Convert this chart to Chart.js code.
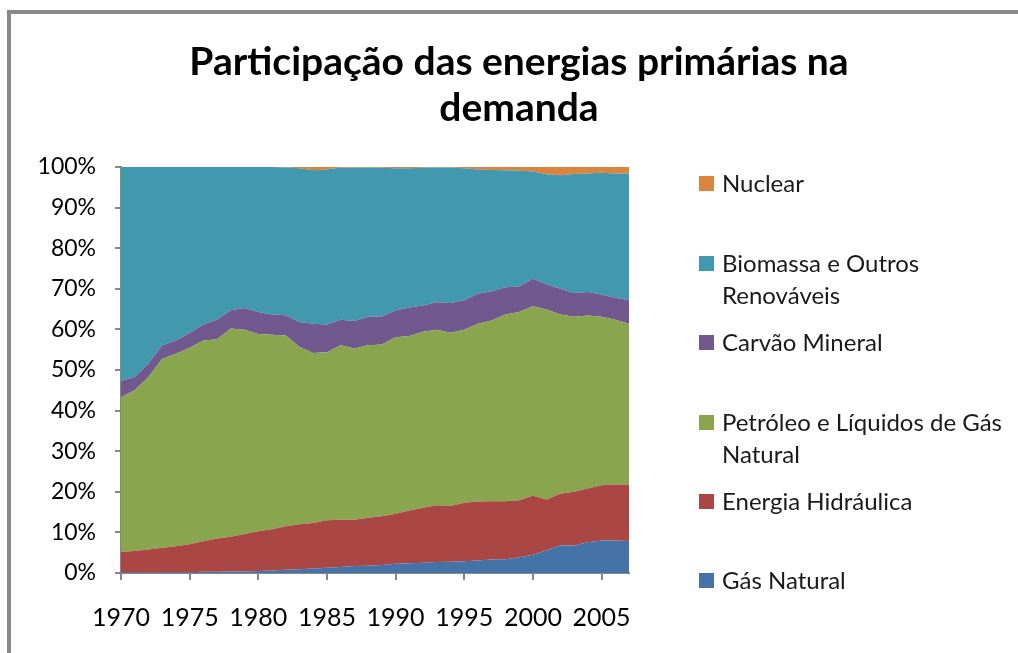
<!DOCTYPE html>
<html>
<head>
<meta charset="utf-8">
<script src="https://cdn.jsdelivr.net/npm/chart.js@4/dist/chart.umd.min.js"></script>
<style>
  html, body { margin: 0; padding: 0; background: #fff; }
  #wrap { position: relative; width: 1018px; height: 653px; overflow: hidden; }
  #frame { position: absolute; left: 7px; top: 10px; width: 1100px; height: 700px;
           border-top: 4px solid #898989; border-left: 4px solid #898989; }
  #chart { position: absolute; left: 0; top: 0; }
  #legend { position: absolute; left: 0; top: 0; font-family: Lato, sans-serif; font-size: 24px; color: #1a1a1a; }
  .item { position: absolute; left: 699px; line-height: 32px; }
  .box { position: absolute; left: 0; top: 9px; width: 15px; height: 15px; }
  .txt { position: absolute; left: 23px; top: 0; width: 292px; }
</style>
</head>
<body>
<div id="wrap">
  <div id="frame"></div>
  <canvas id="chart" width="1018" height="653"></canvas>
  <div id="legend"></div>
</div>
<script>
const years = [1970, 1971, 1972, 1973, 1974, 1975, 1976, 1977, 1978, 1979,
  1980, 1981, 1982, 1983, 1984, 1985, 1986, 1987, 1988, 1989,
  1990, 1991, 1992, 1993, 1994, 1995, 1996, 1997, 1998, 1999,
  2000, 2001, 2002, 2003, 2004, 2005, 2006, 2007];

// shares (%)
const gasNatural = [0.1, 0.1, 0.1, 0.2, 0.2, 0.2, 0.3, 0.3, 0.4, 0.4,
  0.5, 0.6, 0.8, 0.9, 1.1, 1.3, 1.5, 1.7, 1.8, 2.0,
  2.3, 2.4, 2.5, 2.7, 2.8, 2.9, 3.1, 3.3, 3.4, 3.9,
  4.5, 5.6, 6.8, 6.8, 7.6, 8.0, 8.0, 7.9];
const hidraulica = [5.1, 5.3, 5.7, 6.0, 6.4, 6.9, 7.5, 8.2, 8.5, 9.2,
  9.8, 10.2, 10.7, 11.1, 11.2, 11.7, 11.6, 11.4, 11.8, 12.0,
  12.3, 13.0, 13.6, 14.0, 13.7, 14.4, 14.5, 14.4, 14.3, 14.0,
  14.5, 12.5, 12.7, 13.2, 13.2, 13.6, 13.8, 13.9];
const petroleo = [38.1, 39.6, 42.5, 46.6, 47.4, 48.4, 49.5, 49.1, 51.3, 50.3,
  48.6, 47.9, 47.0, 43.7, 41.9, 41.4, 43.0, 42.2, 42.5, 42.3,
  43.5, 43.0, 43.3, 43.2, 42.7, 42.6, 43.8, 44.5, 46.0, 46.4,
  46.7, 46.8, 44.2, 43.1, 42.6, 41.5, 40.6, 39.6];
const carvao = [4.0, 3.3, 3.3, 3.3, 3.3, 3.6, 3.9, 4.8, 4.5, 5.4,
  5.4, 5.0, 5.0, 6.1, 7.2, 6.8, 6.3, 6.8, 7.0, 6.9,
  6.6, 7.0, 6.5, 6.8, 7.3, 7.3, 7.4, 7.2, 6.7, 6.3,
  6.8, 6.2, 6.3, 5.9, 5.8, 5.5, 5.4, 5.8];
const biomassa = [52.7, 51.7, 48.4, 43.9, 42.7, 40.9, 38.8, 37.6, 35.3, 34.7,
  35.7, 36.3, 36.4, 37.9, 37.8, 38.2, 37.5, 37.7, 36.8, 36.6,
  35.0, 34.3, 33.9, 33.2, 33.4, 32.5, 30.6, 29.9, 28.8, 28.5,
  26.4, 27.1, 28.0, 29.3, 29.2, 30.0, 30.6, 31.2];
const nuclear = [0, 0, 0, 0, 0, 0, 0, 0, 0, 0,
  0, 0, 0.1, 0.3, 0.8, 0.6, 0.1, 0.2, 0.1, 0.2,
  0.3, 0.3, 0.2, 0.1, 0.1, 0.3, 0.6, 0.7, 0.8, 0.9,
  1.1, 1.8, 2.0, 1.7, 1.6, 1.4, 1.6, 1.6];

const seriesNames = ['Gás Natural', 'Energia Hidráulica', 'Petróleo e Líquidos de Gás Natural',
  'Carvão Mineral', 'Biomassa e Outros Renováveis', 'Nuclear'];
const seriesData = [gasNatural, hidraulica, petroleo, carvao, biomassa, nuclear];
const colors = ['#4572A7', '#AA4643', '#89A54E', '#71588F', '#4198AF', '#DB843D'];

// 100% stacked: scale each year to its total
const totals = years.map((y, i) => seriesData.reduce((s, d) => s + d[i], 0));

const datasets = seriesData.map((d, k) => ({
    label: seriesNames[k],
    data: d.map((v, i) => v / totals[i] * 100),
    backgroundColor: colors[k],
    borderWidth: 0,
    pointRadius: 0,
    tension: 0,
    fill: k === 0 ? 'origin' : '-1',
}));

const axisGray = '#868686';
const font = 'Lato, sans-serif';

const chart = new Chart(document.getElementById('chart'), {
    type: 'line',
    data: { labels: years, datasets },
    options: {
        responsive: false,
        animation: false,
        devicePixelRatio: 1,
        layout: { padding: { left: 20, right: 0, top: 39, bottom: 10 } },
        plugins: {
            legend: { display: false },
            tooltip: { enabled: false },
            title: {
                display: true,
                text: ['Participação das energias primárias na', 'demanda'],
                color: '#000',
                font: { family: font, size: 39, weight: 'bold', lineHeight: 1.18 },
                padding: { top: 0, bottom: 36 },
            },
        },
        scales: {
            x: {
                type: 'category',
                offset: false,
                afterFit: (s) => { s.height = 70; },
                grid: { drawOnChartArea: false, drawTicks: true, tickLength: 7, color: axisGray, lineWidth: 2 },
                border: { color: axisGray, width: 2 },
                ticks: {
                    autoSkip: false,
                    maxRotation: 0,
                    padding: 23,
                    color: '#000',
                    font: { family: font, size: 25 },
                    callback: (v, i) => (years[i] % 5 === 0 ? String(years[i]) : null),
                },
            },
            y: {
                stacked: true,
                min: 0,
                max: 100,
                afterFit: (s) => { s.width = 101; },
                grid: { drawOnChartArea: false, drawTicks: true, tickLength: 6, color: axisGray, lineWidth: 2 },
                border: { color: axisGray, width: 2 },
                ticks: {
                    stepSize: 10,
                    padding: 19,
                    color: '#000',
                    font: { family: font, size: 23 },
                    callback: (v) => v + '%',
                },
            },
            // empty right-hand box that keeps room for the legend
            legendSpace: {
                position: 'right',
                display: true,
                afterFit: (s) => { s.width = 389; },
                grid: { display: false },
                border: { display: false },
                ticks: { display: false },
            },
        },
    },
});

// legend, top entry first (reverse of stacking order)
const legendEl = document.getElementById('legend');
const firstLineCenters = [183, 262.5, 342, 421.5, 501, 580];
chart.data.datasets.slice().reverse().forEach((ds, i) => {
    const item = document.createElement('div');
    item.className = 'item';
    item.style.top = (firstLineCenters[i] - 16) + 'px';
    item.innerHTML = '<div class="box" style="background:' + ds.backgroundColor + '"></div>' +
        '<div class="txt">' + ds.label + '</div>';
    legendEl.appendChild(item);
});
</script>
</body>
</html>
